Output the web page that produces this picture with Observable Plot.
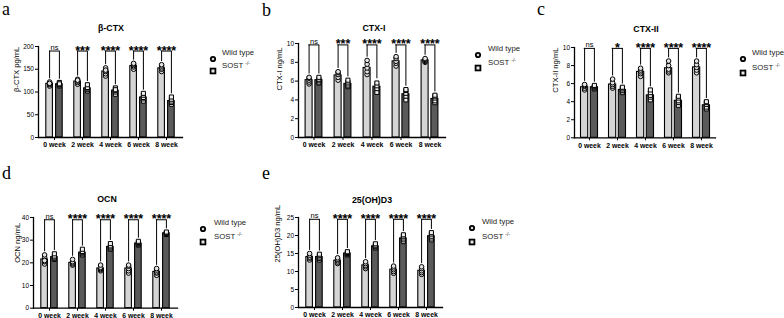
<!DOCTYPE html>
<html><head><meta charset="utf-8">
<script src="https://cdn.jsdelivr.net/npm/d3@7"></script>
<script src="https://cdn.jsdelivr.net/npm/@observablehq/plot@0.6"></script>
<style>
body{margin:0;background:#fff;}
#root{position:relative;width:784px;height:318px;overflow:hidden;font-family:"Liberation Sans",Arial,sans-serif;color:#000;}
.abs{position:absolute;white-space:nowrap;}
.plabel{font-family:"Liberation Serif","Times New Roman",serif;font-size:18px;line-height:1;}
.title{font-weight:bold;font-size:8.8px;line-height:1;transform:translate(-50%,-50%);}
.legtext{font-size:7.8px;line-height:1;color:#222;transform:translateY(-50%);}
.legtext sup{font-size:5px;vertical-align:3px;}
.panel svg{display:block;overflow:visible;}
</style></head>
<body><div id="root"></div>
<script>
// ---------- shared categories ----------
const weeks = ["0 week", "2 week", "4 week", "6 week", "8 week"];
const groupWT = "Wild type";
const groupKO = "SOST";
const groupKOsup = "-/-";

// ---------- a: β-CTX ----------
const bctxTicks = [0, 50, 100, 150, 200];
const bctxWT = [118, 123, 145, 157, 152];
const bctxWTsd = [4, 5, 8, 5, 6];
const bctxWTpts = [[113,116,118,120,122,119],[117,121,124,128,126],[135,140,145,150,153,148],[150,155,158,161,163],[145,150,153,157,160]];
const bctxKO = [117, 108, 103, 88, 80];
const bctxKOsd = [4, 6, 6, 7, 6];
const bctxKOpts = [[113,115,117,119,121,118],[102,105,107,110,116],[95,100,103,106,109,105],[80,85,88,93,97],[73,77,80,84,89]];
const bctxStars = ["ns", "***", "****", "****", "****"];

// ---------- b: CTX-I ----------
const ctx1Ticks = [0, 2, 4, 6, 8, 10];
const ctx1WT = [6.1, 6.6, 7.4, 8.1, 8.2];
const ctx1WTsd = [0.3, 0.4, 0.6, 0.4, 0.2];
const ctx1WTpts = [[5.7,5.9,6.1,6.3,6.4],[6.1,6.4,6.7,6.9,7.0],[6.7,7.0,7.4,7.8,8.2],[7.6,7.9,8.1,8.4,8.6],[8.0,8.1,8.2,8.3,8.4]];
const ctx1KO = [6.1, 5.7, 5.4, 4.6, 4.1];
const ctx1KOsd = [0.3, 0.3, 0.5, 0.5, 0.4];
const ctx1KOpts = [[5.8,5.9,6.1,6.2,6.4],[5.4,5.5,5.7,5.9,6.1],[4.8,5.2,5.5,5.8],[4.0,4.4,4.7,5.0,5.1],[3.7,3.9,4.2,4.4,4.5]];
const ctx1Stars = ["ns", "***", "****", "****", "****"];

// ---------- c: CTX-II ----------
const ctx2Ticks = [0, 2, 4, 6, 8, 10];
const ctx2WT = [5.6, 5.9, 7.3, 7.7, 7.8];
const ctx2WTsd = [0.3, 0.4, 0.4, 0.5, 0.5];
const ctx2WTpts = [[5.3,5.5,5.7,5.8,5.9],[5.5,5.7,5.9,6.1,6.5],[6.8,7.1,7.3,7.5,7.7],[7.2,7.4,7.6,8.0,8.5],[7.2,7.5,7.8,8.1,8.5]];
const ctx2KO = [5.6, 5.3, 4.7, 4.1, 3.6];
const ctx2KOsd = [0.2, 0.3, 0.4, 0.4, 0.4];
const ctx2KOpts = [[5.4,5.5,5.6,5.7,5.8],[5.0,5.2,5.3,5.5,5.6],[4.2,4.5,4.7,5.0,5.3],[3.6,3.9,4.1,4.4,4.6],[3.2,3.4,3.7,3.9,4.0]];
const ctx2Stars = ["ns", "*", "****", "****", "****"];

// ---------- d: OCN ----------
const ocnTicks = [0, 10, 20, 30, 40];
const ocnWT = [21.5, 20, 17.5, 17.5, 16];
const ocnWTsd = [1.5, 1, 1, 1.3, 1.2];
const ocnWTpts = [[19.5,20.5,21.5,22.5,23.5,21],[19,19.5,20,20.5,21.5],[16.5,17,17.5,18,19],[15.5,16.5,17.5,18.5,19],[14.5,15.5,16,16.8,17.5]];
const ocnKO = [22.5, 24.5, 27, 28.5, 33];
const ocnKOsd = [1, 1, 1, 0.7, 0.5];
const ocnKOpts = [[21.5,22,22.5,23,24],[23.5,24,24.5,25,26],[26,26.5,27,27.5,28.5],[27.8,28.2,28.5,29,29.5],[32.5,32.8,33,33.3,33.6]];
const ocnStars = ["ns", "****", "****", "****", "****"];

// ---------- e: 25(OH)D3 ----------
const vitdTicks = [0, 5, 10, 15, 20, 25];
const vitdWT = [14, 13, 11.7, 10.5, 10.2];
const vitdWTsd = [0.7, 0.6, 0.7, 0.8, 0.9];
const vitdWTpts = [[13.2,13.7,14,14.5,15],[12.2,12.6,13,13.4,13.8],[10.8,11.3,11.7,12.2,12.7],[9.5,10,10.5,11,11.5],[9.2,9.7,10.2,10.8,11.3]];
const vitdKO = [14, 15, 17, 19.2, 19.8];
const vitdKOsd = [0.7, 0.4, 0.5, 0.8, 0.9];
const vitdKOpts = [[13.2,13.6,14,14.4,14.8],[14.6,14.8,15,15.3,15.5],[16.5,16.8,17,17.3,17.7],[18.3,18.8,19.3,19.8,20.2],[18.8,19.3,19.8,20.4,20.8]];
const vitdStars = ["ns", "****", "****", "****", "****"];

// ---------- panel definitions (data + layout) ----------
const panels = [
  {tag:"a", title:"β-CTX", ylabel:"β-CTX pg/mL", ymax:200, ticks:bctxTicks, bracket:190,
   wt:bctxWT, wtsd:bctxWTsd, wtpts:bctxWTpts, ko:bctxKO, kosd:bctxKOsd, kopts:bctxKOpts, stars:bctxStars,
   g:{left:38, right:182, top:45.7, bottom:136.7}, labelDx:-22, tpos:[111,28], leg:[213,52.5,64.5,222], lab:[2,0]},
  {tag:"b", title:"CTX-I", ylabel:"CTX-I ng/mL", ymax:10, ticks:ctx1Ticks, bracket:9.85,
   wt:ctx1WT, wtsd:ctx1WTsd, wtpts:ctx1WTpts, ko:ctx1KO, kosd:ctx1KOsd, kopts:ctx1KOpts, stars:ctx1Stars,
   g:{left:298, right:445, top:42.5, bottom:136.5}, labelDx:-19, tpos:[374,28], leg:[478,48.5,62,488], lab:[262,1]},
  {tag:"c", title:"CTX-II", ylabel:"CTX-II ng/mL", ymax:10, ticks:ctx2Ticks, bracket:9.9,
   wt:ctx2WT, wtsd:ctx2WTsd, wtpts:ctx2WTpts, ko:ctx2KO, kosd:ctx2KOsd, kopts:ctx2KOpts, stars:ctx2Stars,
   g:{left:574, right:715, top:47, bottom:137.3}, labelDx:-19, tpos:[646,29], leg:[743,53,67,752], lab:[537,0]},
  {tag:"d", title:"OCN", ylabel:"OCN ng/mL", ymax:40, ticks:ocnTicks, bracket:39,
   wt:ocnWT, wtsd:ocnWTsd, wtpts:ocnWTpts, ko:ocnKO, kosd:ocnKOsd, kopts:ocnKOpts, stars:ocnStars,
   g:{left:33, right:177, top:217, bottom:307.7}, labelDx:-16, tpos:[107,199], leg:[203,223,236,214], lab:[2,164]},
  {tag:"e", title:"25(OH)D3", ylabel:"25(OH)D3 ng/mL", ymax:25, ticks:vitdTicks, bracket:24.5,
   wt:vitdWT, wtsd:vitdWTsd, wtpts:vitdWTpts, ko:vitdKO, kosd:vitdKOsd, kopts:vitdKOpts, stars:vitdStars,
   g:{left:298, right:442, top:217, bottom:307}, labelDx:-21, tpos:[372,200], leg:[472,222,236,482], lab:[262,164]}
];

const root = document.getElementById("root");
const FONT = "'Liberation Sans', Arial, sans-serif";
const LIGHT = "#d5d5d5", DARK = "#5a5a5a";

function addDiv(cls, x, y, html){
  const d = document.createElement("div");
  d.className = "abs " + cls;
  d.style.left = x + "px"; d.style.top = y + "px";
  d.innerHTML = html;
  root.appendChild(d);
  return d;
}

function drawPanel(p){
  const W = p.g.right - p.g.left, H = p.g.bottom - p.g.top;
  const mL = 40, mR = 4, mT = 24, mB = 16;
  const bw = W / weeks.length;
  const barW = 7.4, gap = 2.4, off = gap/2 + barW/2;
  const pad = p.ymax * 0.035;
  const rows = weeks.map((w, i) => ({
    week: w, wt: p.wt[i], wtsd: p.wtsd[i], ko: p.ko[i], kosd: p.kosd[i], star: p.stars[i],
    wtTop: Math.max(...p.wtpts[i], p.wt[i] + p.wtsd[i]),
    koTop: Math.max(...p.kopts[i], p.ko[i] + p.kosd[i])
  }));
  const wtPts = weeks.flatMap((w, i) => p.wtpts[i].map(v => ({week: w, v})));
  const koPts = weeks.flatMap((w, i) => p.kopts[i].map(v => ({week: w, v})));
  const capIn = bw/2 - 2.2;
  const chart = Plot.plot({
    width: W + mL + mR, height: H + mT + mB,
    marginLeft: mL, marginRight: mR, marginTop: mT, marginBottom: mB,
    style: {fontFamily: FONT, color: "#000", background: "transparent", overflow: "visible"},
    x: {domain: weeks, padding: 0, axis: null},
    y: {domain: [0, p.ymax], axis: null},
    marks: [
      Plot.barY(rows, {x: "week", y: "wt", fill: LIGHT, stroke: "#000", strokeWidth: 1.1,
        insetLeft: bw/2 - gap/2 - barW, insetRight: bw/2 + gap/2}),
      Plot.barY(rows, {x: "week", y: "ko", fill: DARK, stroke: "#000", strokeWidth: 1.1,
        insetLeft: bw/2 + gap/2, insetRight: bw/2 - gap/2 - barW}),
      // SD error bars
      Plot.ruleX(rows, {x: "week", y1: d => d.wt - d.wtsd, y2: d => d.wt + d.wtsd, dx: -off, stroke: "#000", strokeWidth: 1}),
      Plot.tickY(rows, {x: "week", y: d => d.wt + d.wtsd, dx: -off, insetLeft: capIn, insetRight: capIn, stroke: "#000", strokeWidth: 1}),
      Plot.ruleX(rows, {x: "week", y1: d => d.ko - d.kosd, y2: d => d.ko + d.kosd, dx: off, stroke: "#000", strokeWidth: 1}),
      Plot.tickY(rows, {x: "week", y: d => d.ko + d.kosd, dx: off, insetLeft: capIn, insetRight: capIn, stroke: "#000", strokeWidth: 1}),
      // individual points
      Plot.dot(wtPts, {x: "week", y: "v", dx: -off, symbol: "circle", r: 2.3, fill: "#e2e2e2", stroke: "#000", strokeWidth: 1}),
      Plot.dot(koPts, {x: "week", y: "v", dx: off, symbol: "square", r: 2.3, fill: "#f0f0f0", stroke: "#000", strokeWidth: 1}),
      // significance brackets
      Plot.ruleX(rows, {x: "week", y1: d => d.wtTop + pad, y2: () => p.bracket, dx: -off, stroke: "#000", strokeWidth: 1}),
      Plot.ruleX(rows, {x: "week", y1: d => d.koTop + pad, y2: () => p.bracket, dx: off, stroke: "#000", strokeWidth: 1}),
      Plot.tickY(rows, {x: "week", y: () => p.bracket, insetLeft: bw/2 - off - 0.5, insetRight: bw/2 - off - 0.5, stroke: "#000", strokeWidth: 1}),
      Plot.text(rows.filter(d => d.star !== "ns"), {x: "week", y: () => p.bracket, text: "star", dy: 3.5, lineAnchor: "bottom", fontSize: 12.5, fontWeight: "bold", fill: "#000"}),
      Plot.text(rows.filter(d => d.star === "ns"), {x: "week", y: () => p.bracket, text: "star", dy: -1, lineAnchor: "bottom", fontSize: 7.5, fill: "#000"}),
      // axes
      Plot.frame({anchor: "left", stroke: "#000", strokeWidth: 1.3}),
      Plot.frame({anchor: "bottom", stroke: "#000", strokeWidth: 1.3}),
      Plot.axisY({ticks: p.ticks, tickSize: 3, tickPadding: 1.5, label: null, fontSize: 6.5, tickFormat: d => String(d)}),
      Plot.axisX({tickSize: 3, tickPadding: 2, label: null, fontSize: 6.9, fontWeight: "bold"}),
      Plot.text([p.ylabel], {frameAnchor: "left", rotate: -90, dx: p.labelDx, fontSize: 7.6, fill: "#000"})
    ]
  });
  const holder = addDiv("panel", p.g.left - mL, p.g.top - mT, "");
  holder.appendChild(chart);
  // title
  addDiv("title", p.tpos[0], p.tpos[1], p.title);
  // panel letter
  addDiv("plabel", p.lab[0], p.lab[1], p.tag);
  // legend
  const [lx, ly1, ly2, tx] = p.leg;
  addDiv("", lx - 4, ly1 - 4, `<svg width="8" height="8"><circle cx="4" cy="4" r="2.2" fill="#d8d8d8" stroke="#000" stroke-width="1.8"/></svg>`);
  addDiv("", lx - 4, ly2 - 4, `<svg width="8" height="8"><rect x="1.6" y="1.6" width="4.8" height="4.8" fill="#e8e8e8" stroke="#000" stroke-width="1.8"/></svg>`);
  addDiv("legtext", tx, ly1, groupWT);
  addDiv("legtext", tx, ly2, `${groupKO} <sup>${groupKOsup}</sup>`);
}

panels.forEach(drawPanel);
</script>
</body></html>
